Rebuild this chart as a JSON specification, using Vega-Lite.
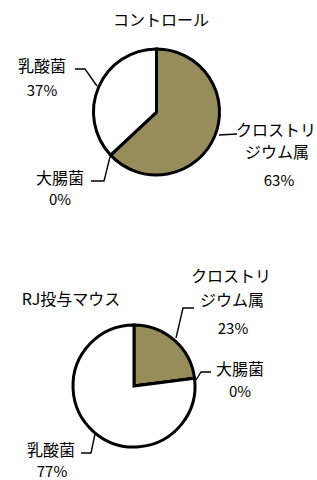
{
  "$schema": "https://vega.github.io/schema/vega-lite/v6.json",
  "width": 317,
  "height": 480,
  "padding": 0,
  "autosize": "none",
  "background": "white",
  "config": {"view": {"stroke": null}},
  "datasets": {
    "pies": [
      {"g": "c", "sp": "クロストリジウム属", "pct": 63, "o": 1, "cx": 156.5, "cy": 112},
      {"g": "c", "sp": "大腸菌", "pct": 0, "o": 2, "cx": 156.5, "cy": 112},
      {"g": "c", "sp": "乳酸菌", "pct": 37, "o": 3, "cx": 156.5, "cy": 112},
      {"g": "r", "sp": "クロストリジウム属", "pct": 23, "o": 1, "cx": 134, "cy": 386},
      {"g": "r", "sp": "大腸菌", "pct": 0, "o": 2, "cx": 134, "cy": 386},
      {"g": "r", "sp": "乳酸菌", "pct": 77, "o": 3, "cx": 134, "cy": 386}
    ],
    "labels": [
      {"t": "コントロール", "x": 161, "y": 21},
      {"t": "乳酸菌", "x": 42, "y": 67},
      {"t": "37%", "x": 42, "y": 91},
      {"t": "クロストリ", "x": 276, "y": 131},
      {"t": "ジウム属", "x": 277, "y": 153},
      {"t": "63%", "x": 279, "y": 181},
      {"t": "大腸菌", "x": 60, "y": 179},
      {"t": "0%", "x": 60, "y": 200},
      {"t": "RJ投与マウス", "x": 71, "y": 300},
      {"t": "クロストリ", "x": 231, "y": 277},
      {"t": "ジウム属", "x": 232, "y": 301},
      {"t": "23%", "x": 233, "y": 329},
      {"t": "大腸菌", "x": 240, "y": 370},
      {"t": "0%", "x": 240, "y": 392},
      {"t": "乳酸菌", "x": 51, "y": 451},
      {"t": "77%", "x": 52, "y": 472}
    ],
    "leaders": [
      {"id": 1, "k": 1, "x": 75, "y": 69}, {"id": 1, "k": 2, "x": 85, "y": 69}, {"id": 1, "k": 3, "x": 97, "y": 86},
      {"id": 2, "k": 1, "x": 219, "y": 135}, {"id": 2, "k": 2, "x": 237, "y": 134},
      {"id": 3, "k": 1, "x": 91, "y": 181}, {"id": 3, "k": 2, "x": 104, "y": 181}, {"id": 3, "k": 3, "x": 110, "y": 157},
      {"id": 4, "k": 1, "x": 194, "y": 308}, {"id": 4, "k": 2, "x": 183, "y": 308}, {"id": 4, "k": 3, "x": 176, "y": 338},
      {"id": 5, "k": 1, "x": 196, "y": 380}, {"id": 5, "k": 2, "x": 201, "y": 372}, {"id": 5, "k": 3, "x": 211, "y": 372},
      {"id": 6, "k": 1, "x": 81, "y": 453}, {"id": 6, "k": 2, "x": 91, "y": 453}, {"id": 6, "k": 3, "x": 95, "y": 434}
    ]
  },
  "layer": [
    {
      "data": {"name": "leaders"},
      "mark": {"type": "line", "stroke": "black", "strokeWidth": 1.4},
      "encoding": {
        "x": {"field": "x", "type": "quantitative", "scale": {"domain": [0, 317], "nice": false, "zero": false}, "axis": null},
        "y": {"field": "y", "type": "quantitative", "scale": {"domain": [0, 480], "reverse": true, "nice": false, "zero": false}, "axis": null},
        "detail": {"field": "id"},
        "order": {"field": "k"}
      }
    },
    {
      "data": {"name": "pies"},
      "transform": [{"filter": "datum.g === 'c'"}],
      "mark": {"type": "arc", "outerRadius": 63, "stroke": "black", "strokeWidth": 3},
      "encoding": {
        "x": {"field": "cx", "type": "quantitative"},
        "y": {"field": "cy", "type": "quantitative"},
        "theta": {"field": "pct", "type": "quantitative", "stack": true},
        "order": {"field": "o"},
        "color": {"field": "sp", "type": "nominal", "scale": {"domain": ["クロストリジウム属", "大腸菌", "乳酸菌"], "range": ["#968D5A", "white", "white"]}, "legend": null}
      }
    },
    {
      "data": {"name": "pies"},
      "transform": [{"filter": "datum.g === 'r'"}],
      "mark": {"type": "arc", "outerRadius": 61, "stroke": "black", "strokeWidth": 3},
      "encoding": {
        "x": {"field": "cx", "type": "quantitative"},
        "y": {"field": "cy", "type": "quantitative"},
        "theta": {"field": "pct", "type": "quantitative", "stack": true},
        "order": {"field": "o"},
        "color": {"field": "sp", "type": "nominal", "legend": null}
      }
    },
    {
      "data": {"name": "labels"},
      "transform": [{"filter": "!test(/%/, datum.t)"}],
      "mark": {"type": "text", "font": "Noto Sans CJK JP", "fontSize": 16, "align": "center", "baseline": "middle", "color": "black"},
      "encoding": {
        "x": {"field": "x", "type": "quantitative"},
        "y": {"field": "y", "type": "quantitative"},
        "text": {"field": "t"}
      }
    },
    {
      "data": {"name": "labels"},
      "transform": [{"filter": "test(/%/, datum.t)"}],
      "mark": {"type": "text", "font": "Noto Sans CJK JP", "fontSize": 15, "align": "center", "baseline": "middle", "color": "black"},
      "encoding": {
        "x": {"field": "x", "type": "quantitative"},
        "y": {"field": "y", "type": "quantitative"},
        "text": {"field": "t"}
      }
    }
  ]
}
